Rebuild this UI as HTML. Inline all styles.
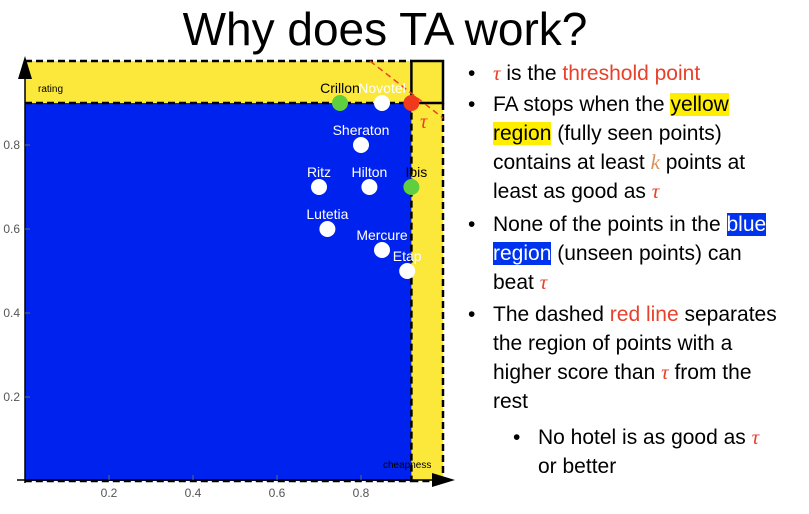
<!DOCTYPE html>
<html><head><meta charset="utf-8"><style>
body{margin:0;width:809px;height:514px;background:#fff;overflow:hidden;position:relative;font-family:"Liberation Sans",sans-serif}
#title{position:absolute;left:0;width:770px;top:2px;text-align:center;font-size:46px;color:#000}
.b{position:absolute;font-size:21px;color:#000;line-height:29px}
.dot{position:absolute;left:-25px}
.r{color:#e8412b}.y{background:#ffee00}.bl{background:#0033ee;color:#fff}
.t{font-family:"Liberation Serif",serif;font-style:italic;color:#e8412b}
</style></head><body>
<div id="title">Why does TA work?</div>
<svg id="chart" width="460" height="514" style="position:absolute;left:0;top:0"></svg>
<div class="b" style="left:493px;top:59px"><span class="dot">•</span><span class="t">τ</span> is the <span class="r">threshold point</span></div>
<div class="b" style="left:493px;top:90px;width:272px"><span class="dot">•</span>FA stops when the <span class="y">yellow region</span> (fully seen points) contains at least <span class="t" style="color:#d9905a">k</span> points at least as good as <span class="t">τ</span></div>
<div class="b" style="left:493px;top:210px;width:275px"><span class="dot">•</span>None of the points in the <span class="bl">blue region</span> (unseen points) can beat <span class="t">τ</span></div>
<div class="b" style="left:493px;top:300px;width:296px"><span class="dot">•</span>The dashed <span class="r">red line</span> separates the region of points with a higher score than <span class="t">τ</span> from the rest</div>
<div class="b" style="left:538px;top:423px;width:245px"><span class="dot">•</span>No hotel is as good as <span class="t">τ</span> or better</div>
<script>
const names=["Crillon","Novotel","tau","Sheraton","Ritz","Hilton","Ibis","Lutetia","Mercure","Etap"];
const xs=[0.75,0.85,0.92,0.8,0.7,0.82,0.92,0.72,0.85,0.91];
const ys=[0.9,0.9,0.9,0.8,0.7,0.7,0.7,0.6,0.55,0.5];
const colors=["#5fcf3f","#fff","#f03a1e","#fff","#fff","#fff","#5fcf3f","#fff","#fff","#fff"];
const xticks=[0.2,0.4,0.6,0.8],yticks=[0.2,0.4,0.6,0.8];
const X=v=>25+v*420,Y=v=>481-v*420;
const s=document.getElementById('chart');const NS="http://www.w3.org/2000/svg";
function el(t,a,p){const e=document.createElementNS(NS,t);for(const k in a)e.setAttribute(k,a[k]);(p||s).appendChild(e);return e;}
const tx=X(0.92),ty=Y(0.9),topY=61,rightX=443;
let e;
e=el('rect',{x:25,y:topY,width:rightX-25,height:ty-topY,fill:'#fbe83a'});


e=el('rect',{x:tx,y:ty,width:rightX-tx,height:481-ty,fill:'#fbe83a'});


e=el('rect',{x:25,y:ty,width:tx-25,height:481-ty,fill:'#0022ee'});


const d={stroke:'#000','stroke-width':2.5,'stroke-dasharray':'7,4',fill:'none'};
el('path',Object.assign({d:`M25 ${topY}H${tx}M25 ${ty}H${tx}V481H25M${rightX} ${ty}V481M${tx} 481H${rightX}`},d));
el('path',{d:`M${tx} ${topY}H${rightX}V${ty}H${tx}Z`,stroke:'#000','stroke-width':2.5,fill:'none'});
e=el('line',{x1:370,y1:topY,x2:rightX,y2:118,stroke:'#e8412b','stroke-width':1.5,'stroke-dasharray':'6,4'});


el('text',{x:420,y:128,fill:'#e8412b','font-size':20,'font-style':'italic','font-family':'Liberation Serif'}).textContent='τ';
el('line',{x1:25,y1:483,x2:25,y2:70,stroke:'#000','stroke-width':1.5});
el('path',{d:'M25 56L18 79L32 79Z',fill:'#000'});
el('line',{x1:17,y1:480,x2:440,y2:480,stroke:'#000','stroke-width':1.5});
el('path',{d:'M455 480L432 473L432 487Z',fill:'#000'});
xticks.forEach(v=>{el('line',{x1:X(v),y1:480,x2:X(v),y2:475,stroke:'#666'});e=el('text',{x:X(v),y:497,'text-anchor':'middle','font-size':12,fill:'#555'});e.textContent=v;

});
yticks.forEach(v=>{el('line',{x1:25,y1:Y(v),x2:30,y2:Y(v),stroke:'#666'});e=el('text',{x:20,y:Y(v)+4,'text-anchor':'end','font-size':12,fill:'#555'});e.textContent=v;

});
el('text',{x:38,y:92,'font-size':10,fill:'#000'}).textContent='rating';
el('text',{x:383,y:468,'font-size':10,fill:'#000'}).textContent='cheapness';
xs.forEach((v,i)=>{e=el('circle',{cx:X(v),cy:Y(ys[i]),r:8,fill:colors[i]});


 if(names[i]!=='tau'){let t=el('text',{x:X(v)+(names[i]==='Ibis'?5:0),y:Y(ys[i])-10,'text-anchor':'middle','font-size':14,fill:names[i]==='Crillon'||names[i]==='Ibis'?'#000':'#fff'});t.textContent=names[i];

}});
</script>
</body></html>
